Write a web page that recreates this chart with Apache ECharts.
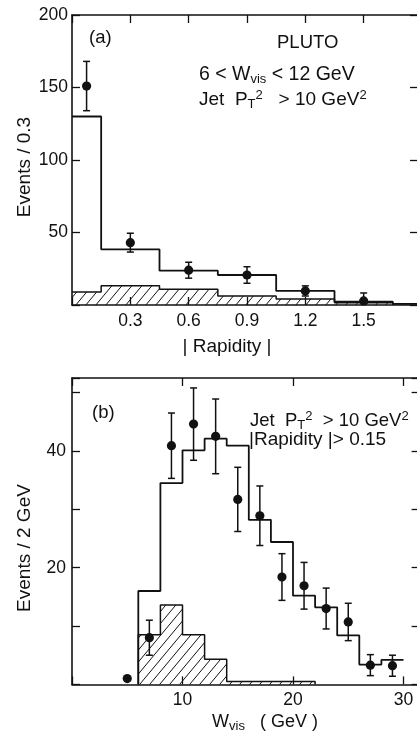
<!DOCTYPE html>
<html><head><meta charset="utf-8">
<script src="https://cdn.jsdelivr.net/npm/echarts@6/dist/echarts.min.js"></script>
<style>html,body{margin:0;padding:0;background:#fff}#c{width:417px;height:734px}</style>
</head><body><div id="c"></div>
<script>
// ---------- Panel (a): |Rapidity| ----------
const rapEdgesSolid = [0, 0.15, 0.45, 0.75, 1.05, 1.35, 1.65, 1.8];
const rapSolid = [130, 38.4, 23.7, 20.7, 9.7, 2.3, 0.8];
const rapEdgesHatch = [0, 0.15, 0.45, 0.75, 1.05, 1.35, 1.65];
const rapHatch = [9, 13.3, 10.8, 6.2, 4.1, 1.6];
const rapPtX = [0.075, 0.3, 0.6, 0.9, 1.2, 1.5];
const rapPtY = [151, 43, 24, 20.7, 9.7, 2.8];
const rapPtErr = [17, 6.5, 5.5, 5.7, 3.5, 5.5];
const rapTickLabels = [0.3, 0.6, 0.9, 1.2, 1.5];
const evATickLabels = [50, 100, 150, 200];

// ---------- Panel (b): W_vis ----------
const wEdgesSolid = [6, 8, 10, 12, 14, 16, 18, 20, 22, 24, 26, 28, 30];
const wSolid = [16, 34.5, 40.1, 42.1, 40.9, 28.2, 24.4, 15.2, 13.2, 8.4, 3.4, 4.2];
const wEdgesHatch = [6, 8, 10, 12, 14, 22];
const wHatch = [8.5, 13.6, 8.5, 4.3, 0.5];
const wPtX = [5, 7, 9, 11, 13, 15, 17, 19, 21, 23, 25, 27, 29];
const wPtY = [1.0, 8.0, 40.9, 44.6, 42.5, 31.7, 28.9, 18.4, 16.9, 13.0, 10.7, 3.3, 3.2];
const wPtErr = [0, 3, 5.6, 6.2, 6.4, 5.5, 5.1, 4, 4, 3.5, 3.2, 1.8, 1.8];
const wTickLabels = [10, 20, 30];
const evBTickLabels = [20, 40];

const FONT = 'Liberation Sans';
const BLACK = '#111';

function stepData(edges, vals, startZero, endZero) {
  const d = [];
  if (startZero) d.push([edges[0], 0]);
  for (let i = 0; i < vals.length; i++) d.push([edges[i], vals[i]]);
  d.push([edges[vals.length], vals[vals.length - 1]]);
  if (endZero) d.push([edges[vals.length], 0]);
  return d;
}
function pts(xs, ys, es) { return xs.map((x, i) => [x, ys[i], es[i]]); }

// hatch pattern
const pc = document.createElement('canvas');
pc.width = 10; pc.height = 12;
const g = pc.getContext('2d');
g.strokeStyle = '#111'; g.lineWidth = 1.0;
[-10, 0, 10].forEach(function (dx) {
  g.beginPath(); g.moveTo(dx - 2, 14.4); g.lineTo(dx + 12, -2.4); g.stroke();
});

function errItem(params, api) {
  const x = api.value(0), y = api.value(1), e = api.value(2);
  const p = api.coord([x, y]);
  const hi = api.coord([x, y + e]);
  const lo = api.coord([x, Math.max(0, y - e)]);
  const st = { stroke: BLACK, lineWidth: 1.5 };
  const ch = [];
  if (e > 0) {
    ch.push({ type: 'line', shape: { x1: p[0], y1: hi[1], x2: p[0], y2: lo[1] }, style: st });
    ch.push({ type: 'line', shape: { x1: p[0] - 3.5, y1: hi[1], x2: p[0] + 3.5, y2: hi[1] }, style: st });
    if (y - e > 0) ch.push({ type: 'line', shape: { x1: p[0] - 3.5, y1: lo[1], x2: p[0] + 3.5, y2: lo[1] }, style: st });
  }
  ch.push({ type: 'circle', shape: { cx: p[0], cy: p[1], r: 4.6 }, style: { fill: BLACK } });
  return { type: 'group', children: ch };
}

const axLine = { show: true, onZero: false, lineStyle: { color: BLACK, width: 1.6 } };
const noLine = { show: false, onZero: false };
const tickIn = { show: true, inside: true, length: 8, lineStyle: { color: BLACK, width: 1.3 } };
const lblStyle = { color: BLACK, fontSize: 17.5, fontFamily: FONT };

function fmtList(list, dec) {
  return function (v) {
    const r = Math.round(v * 100) / 100;
    return list.some(t => Math.abs(t - r) < 1e-6) ? r.toFixed(dec) : '';
  };
}

const rich = {
  sub: { fontSize: 13, fontFamily: FONT, fill: BLACK, padding: [9, 0, 0, 0] },
  sup: { fontSize: 13, fontFamily: FONT, fill: BLACK, padding: [0, 0, 9, 0] }
};
function txt(x, y, text, opts) {
  opts = opts || {};
  const el = {
    type: 'text', x: x, y: y, z: 100,
    style: { text: text, fontSize: opts.size || 18.5, fontFamily: FONT, fill: BLACK,
             align: opts.align || 'left', verticalAlign: 'middle', rich: rich }
  };
  if (opts.rotation) el.rotation = opts.rotation;
  return el;
}

const option = {
  backgroundColor: '#fff',
  animation: false,
  grid: [
    { left: 72, top: 15, width: 350, height: 290, outerBoundsMode: 'none', containLabel: false },
    { left: 72, top: 378, width: 353.6, height: 306.4, outerBoundsMode: 'none', containLabel: false }
  ],
  xAxis: [
    { gridIndex: 0, type: 'value', position: 'bottom', min: 0, max: 1.8, interval: 0.3,
      axisLine: axLine, axisTick: tickIn, splitLine: { show: false },
      axisLabel: Object.assign({ margin: 7, formatter: fmtList(rapTickLabels, 1) }, lblStyle) },
    { gridIndex: 0, type: 'value', position: 'top', min: 0, max: 1.8, interval: 0.3,
      axisLine: axLine, axisTick: tickIn, splitLine: { show: false }, axisLabel: { show: false } },
    { gridIndex: 1, type: 'value', position: 'bottom', min: 0, max: 32, interval: 10,
      axisLine: axLine, axisTick: tickIn, splitLine: { show: false },
      axisLabel: Object.assign({ margin: 7, formatter: fmtList(wTickLabels, 0) }, lblStyle) },
    { gridIndex: 1, type: 'value', position: 'top', min: 0, max: 32, interval: 10,
      axisLine: axLine, axisTick: tickIn, splitLine: { show: false }, axisLabel: { show: false } }
  ],
  yAxis: [
    { gridIndex: 0, type: 'value', position: 'left', min: 0, max: 200, interval: 50,
      axisLine: axLine, axisTick: tickIn, splitLine: { show: false },
      axisLabel: Object.assign({ margin: 4, formatter: fmtList(evATickLabels, 0) }, lblStyle) },
    { gridIndex: 0, type: 'value', position: 'right', min: 0, max: 200, interval: 50,
      axisLine: noLine, axisTick: Object.assign({}, tickIn, { length: 12 }), splitLine: { show: false }, axisLabel: { show: false } },
    { gridIndex: 1, type: 'value', position: 'left', min: 0, max: 52.5, interval: 10,
      axisLine: axLine, axisTick: tickIn, splitLine: { show: false },
      axisLabel: Object.assign({ margin: 6, formatter: fmtList(evBTickLabels, 0) }, lblStyle) },
    { gridIndex: 1, type: 'value', position: 'right', min: 0, max: 52.5, interval: 10,
      axisLine: noLine, axisTick: Object.assign({}, tickIn, { length: 14 }), splitLine: { show: false }, axisLabel: { show: false } }
  ],
  series: [
    { type: 'line', xAxisIndex: 0, yAxisIndex: 0, step: 'end', symbol: 'none', z: 2,
      lineStyle: { color: BLACK, width: 1.5 },
      areaStyle: { color: { image: pc, repeat: 'repeat' }, opacity: 1 },
      data: stepData(rapEdgesHatch, rapHatch, false, true) },
    { type: 'line', xAxisIndex: 0, yAxisIndex: 0, step: 'end', symbol: 'none', z: 3,
      lineStyle: { color: BLACK, width: 1.8 },
      data: stepData(rapEdgesSolid, rapSolid, false, false) },
    { type: 'custom', xAxisIndex: 0, yAxisIndex: 0, z: 4, renderItem: errItem,
      data: pts(rapPtX, rapPtY, rapPtErr) },
    { type: 'line', xAxisIndex: 2, yAxisIndex: 2, step: 'end', symbol: 'none', z: 2,
      lineStyle: { color: BLACK, width: 1.5 },
      areaStyle: { color: { image: pc, repeat: 'repeat' }, opacity: 1 },
      data: stepData(wEdgesHatch, wHatch, true, true) },
    { type: 'line', xAxisIndex: 2, yAxisIndex: 2, step: 'end', symbol: 'none', z: 3,
      lineStyle: { color: BLACK, width: 1.8 },
      data: stepData(wEdgesSolid, wSolid, true, false) },
    { type: 'custom', xAxisIndex: 2, yAxisIndex: 2, z: 4, renderItem: errItem,
      data: pts(wPtX, wPtY, wPtErr) }
  ],
  graphic: [
    txt(89, 38, '(a)'),
    txt(277, 43, 'PLUTO'),
    txt(199, 75, '6 < W{sub|vis} < 12 GeV', { size: 19.5 }),
    txt(199, 100, 'Jet  P{sub|T}{sup|2}   > 10 GeV{sup|2}', { size: 19 }),
    txt(25, 167, 'Events / 0.3', { rotation: Math.PI / 2, align: 'center', size: 19 }),
    txt(227, 347, '| Rapidity |', { align: 'center', size: 19 }),
    txt(92, 413, '(b)'),
    txt(250, 421, 'Jet  P{sub|T}{sup|2}  > 10 GeV{sup|2}', { size: 18.5 }),
    txt(249, 440, '|Rapidity |> 0.15', { size: 19 }),
    txt(25, 548, 'Events / 2 GeV', { rotation: Math.PI / 2, align: 'center', size: 19 }),
    txt(265, 722, 'W{sub|vis}   ( GeV )', { align: 'center', size: 18 })
  ]
};
const chart = echarts.init(document.getElementById('c'), null, { renderer: 'canvas' });
chart.setOption(option);
</script></body></html>
